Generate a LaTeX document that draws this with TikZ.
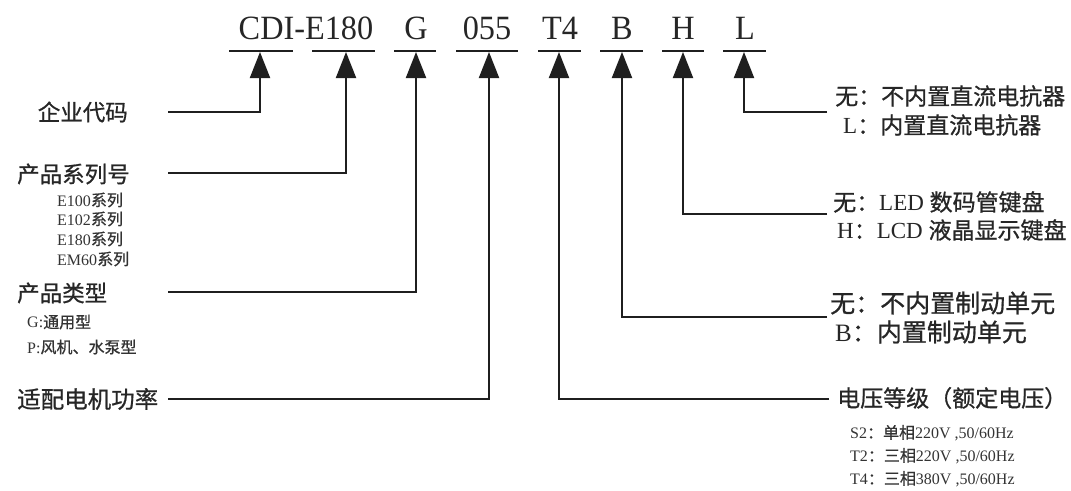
\documentclass[tikz,border=0pt]{standalone}
\usepackage{fontspec}
\setmainfont{Liberation Serif}
\newfontfamily\cjk[FakeBold=0.8]{Noto Sans CJK SC}
\usetikzlibrary{arrows.meta}
\begin{document}
\begin{tikzpicture}[x=1pt,y=-1pt,
  conn/.style={line width=2pt, draw=black!88, -{Triangle[width=20pt,length=26pt]}},
  uline/.style={line width=2pt, draw=black!88},
  code/.style={font=\fontsize{34}{34}\selectfont, text=black!85, inner sep=0pt, anchor=base, xscale=0.95},
  big/.style={font=\fontsize{22.5}{22.5}\selectfont, text=black!85, inner sep=0pt},
  rbig/.style={font=\fontsize{23}{23}\selectfont, text=black!85, inner sep=0pt, anchor=west},
  small/.style={font=\fontsize{16}{16}\selectfont, text=black!80, inner sep=0pt, anchor=west},
]
\useasboundingbox (0,0) rectangle (1071,490);

% code letters
\node[code] (cCE) at (306,39) {CDI-E180};
\node[code] (cG) at (416,39) {G};
\node[code] (c055) at (487,39) {055};
\node[code] (cT4) at (560,39) {T4};
\node[code] (cB) at (622,39) {B};
\node[code] (cH) at (683,39) {H};
\node[code] (cL) at (745,39) {L};

% underlines
\draw[uline] (229,51) -- (293,51);
\draw[uline] (312,51) -- (375,51);
\draw[uline] (394,51) -- (436,51);
\draw[uline] (456,51) -- (518,51);
\draw[uline] (538,51) -- (581,51);
\draw[uline] (600,51) -- (643,51);
\draw[uline] (662,51) -- (704,51);
\draw[uline] (723,51) -- (766,51);

% arrow tips
\coordinate (tCDI) at (260,52);
\coordinate (tE) at (346,52);
\coordinate (tG) at (416,52);
\coordinate (t055) at (489,52);
\coordinate (tT4) at (559,52);
\coordinate (tB) at (622,52);
\coordinate (tH) at (683,52);
\coordinate (tL) at (744,52);

% left labels
\node[big, anchor=east] (lA) at (128,112) {\cjk 企业代码};
\node[big, anchor=west] (lB) at (17,174) {\cjk 产品系列号};
\node[small] (lB1) at (57,200) {E100{\cjk 系列}};
\node[small] (lB2) at (57,219) {E102{\cjk 系列}};
\node[small] (lB3) at (57,239) {E180{\cjk 系列}};
\node[small] (lB4) at (57,259) {EM60{\cjk 系列}};
\node[big, anchor=west] (lC) at (17,293) {\cjk 产品类型};
\node[small] (lC1) at (27,322) {G:{\cjk 通用型}};
\node[small] (lC2) at (27,347) {P:{\cjk 风机、水泵型}};
\node[big, anchor=west, font=\fontsize{23.5}{23.5}\selectfont] (lD) at (17,399) {\cjk 适配电机功率};

% right labels
\node[rbig] (rL1) at (835,96) {{\cjk 无：不内置直流电抗器}};
\node[rbig] (rL2) at (843,125) {L{\cjk ：内置直流电抗器}};
\node[rbig] (rH1) at (833,202) {{\cjk 无：}LED {\cjk 数码管键盘}};
\node[rbig] (rH2) at (837,230) {H{\cjk ：}LCD {\cjk 液晶显示键盘}};
\node[rbig, font=\fontsize{25}{25}\selectfont] (rB1) at (830,303) {{\cjk 无：不内置制动单元}};
\node[rbig, font=\fontsize{25}{25}\selectfont] (rB2) at (835,332) {B{\cjk ：内置制动单元}};
\node[rbig] (rT) at (837,398) {{\cjk 电压等级（额定电压）}};
\node[small] (rT1) at (850,433) {S2{\cjk ：单相}220V ,50/60Hz};
\node[small] (rT2) at (850,456) {T2{\cjk ：三相}220V ,50/60Hz};
\node[small] (rT3) at (850,479) {T4{\cjk ：三相}380V ,50/60Hz};

% connector start points
\coordinate (sA) at (168,112);
\coordinate (sB) at (168,173);
\coordinate (sC) at (168,292);
\coordinate (sD) at (168,399);
\coordinate (sT) at (829,399);
\coordinate (sBr) at (827,317);
\coordinate (sH) at (827,214);
\coordinate (sL) at (827,112);

\draw[conn] (sA) -| (tCDI);
\draw[conn] (sB) -| (tE);
\draw[conn] (sC) -| (tG);
\draw[conn] (sD) -| (t055);
\draw[conn] (sT) -| (tT4);
\draw[conn] (sBr) -| (tB);
\draw[conn] (sH) -| (tH);
\draw[conn] (sL) -| (tL);
\end{tikzpicture}
\end{document}
